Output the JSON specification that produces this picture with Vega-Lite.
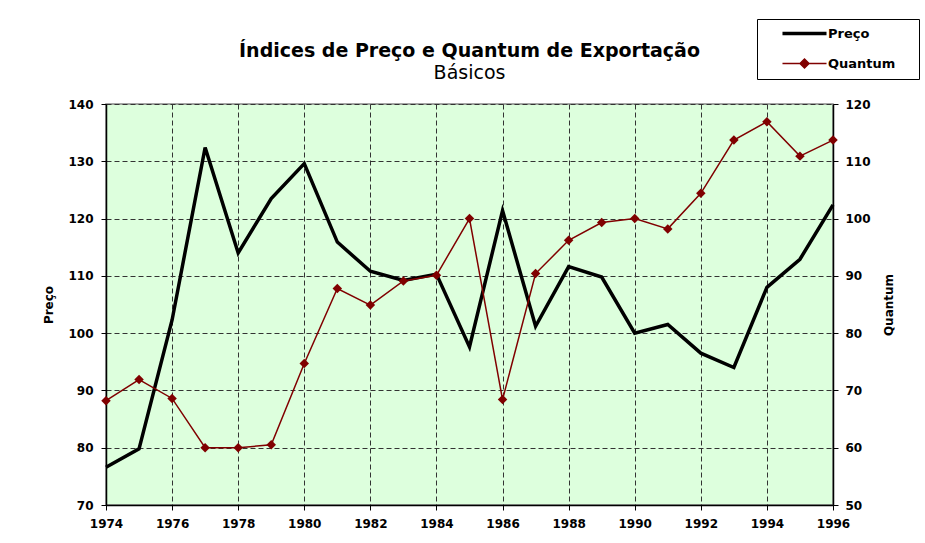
{
  "$schema": "https://vega.github.io/schema/vega-lite/v6.json",
  "width": 727,
  "height": 401,
  "autosize": "none",
  "padding": {"left": 106, "top": 104, "right": 92, "bottom": 38},
  "background": "white",
  "title": {
    "text": "Índices de Preço e Quantum de Exportação",
    "subtitle": "Básicos",
    "anchor": "middle",
    "font": "DejaVu Sans",
    "fontSize": 19,
    "fontWeight": "bold",
    "color": "black",
    "subtitleFont": "DejaVu Sans",
    "subtitleFontSize": 19,
    "subtitleColor": "black",
    "subtitlePadding": 3,
    "offset": -64
  },
  "config": {
    "view": {"fill": "#DDFFDD", "stroke": "#888888", "strokeWidth": 1.5},
    "axis": {
      "labelFont": "DejaVu Sans",
      "labelFontSize": 12,
      "labelFontWeight": "bold",
      "labelColor": "black",
      "titleFont": "DejaVu Sans",
      "titleFontSize": 12,
      "titleFontWeight": "bold",
      "titleColor": "black",
      "domainColor": "black",
      "domainWidth": 1.5,
      "tickColor": "black",
      "tickSize": 5,
      "tickWidth": 1,
      "gridColor": "#333333",
      "gridDash": [5, 3],
      "gridWidth": 1,
      "gridOpacity": 1
    }
  },
  "data": {
    "values": [
      {"ano": 1974, "preco": 76.6, "quantum": 68.2},
      {"ano": 1975, "preco": 79.8, "quantum": 71.9},
      {"ano": 1976, "preco": 102.3, "quantum": 68.6},
      {"ano": 1977, "preco": 132.4, "quantum": 60.0},
      {"ano": 1978, "preco": 114.0, "quantum": 60.0},
      {"ano": 1979, "preco": 123.5, "quantum": 60.5},
      {"ano": 1980, "preco": 129.6, "quantum": 74.7},
      {"ano": 1981, "preco": 115.9, "quantum": 87.8},
      {"ano": 1982, "preco": 110.8, "quantum": 84.9},
      {"ano": 1983, "preco": 109.2, "quantum": 89.1},
      {"ano": 1984, "preco": 110.3, "quantum": 90.1},
      {"ano": 1985, "preco": 97.6, "quantum": 100.0},
      {"ano": 1986, "preco": 121.4, "quantum": 68.4},
      {"ano": 1987, "preco": 101.2, "quantum": 90.4},
      {"ano": 1988, "preco": 111.6, "quantum": 96.2},
      {"ano": 1989, "preco": 109.8, "quantum": 99.3},
      {"ano": 1990, "preco": 100.0, "quantum": 100.0},
      {"ano": 1991, "preco": 101.5, "quantum": 98.2},
      {"ano": 1992, "preco": 96.5, "quantum": 104.4},
      {"ano": 1993, "preco": 94.0, "quantum": 113.7},
      {"ano": 1994, "preco": 108.0, "quantum": 116.9},
      {"ano": 1995, "preco": 112.9, "quantum": 110.9},
      {"ano": 1996, "preco": 122.4, "quantum": 113.7}
    ]
  },
  "encoding": {
    "x": {
      "field": "ano",
      "type": "quantitative",
      "scale": {"domain": [1974, 1996], "nice": false, "zero": false},
      "axis": {
        "title": null,
        "values": [1974, 1976, 1978, 1980, 1982, 1984, 1986, 1988, 1990, 1992, 1994, 1996],
        "format": "d",
        "grid": true,
        "labelPadding": 8,
        "labelFlush": false,
        "labelOverlap": false
      }
    }
  },
  "layer": [
    {
      "mark": {"type": "line", "strokeWidth": 3.5},
      "encoding": {
        "y": {
          "field": "preco",
          "type": "quantitative",
          "scale": {"domain": [70, 140], "nice": false, "zero": false},
          "axis": {
            "title": "Preço",
            "values": [70, 80, 90, 100, 110, 120, 130, 140],
            "grid": true,
            "labelPadding": 8,
            "titlePadding": 12
          }
        },
        "color": {
          "datum": "Preço",
          "type": "nominal",
          "scale": {"domain": ["Preço", "Quantum"], "range": ["#000000", "#800000"]},
          "legend": {
            "orient": "none",
            "legendX": 651,
            "legendY": -85,
            "title": null,
            "padding": 8,
            "strokeColor": "black",
            "fillColor": "white",
            "cornerRadius": 0,
            "labelFont": "DejaVu Sans",
            "labelFontSize": 13,
            "labelFontWeight": "bold",
            "labelColor": "black",
            "symbolSize": 144,
            "rowPadding": 15,
            "labelOffset": 50,
            "encode": {
              "symbols": {
                "update": {
                  "shape": {"signal": "datum.value === 'Preço' ? 'M1.83,0H9.17M22,0' : 'M1.83,0H9.17M4.75,0L5.5,-0.75L6.25,0L5.5,0.75ZM22,0'"},
                  "strokeWidth": {"signal": "datum.value === 'Preço' ? 3.5 : 1.5"},
                  "stroke": {"signal": "datum.value === 'Preço' ? '#000000' : '#800000'"},
                  "fill": {"signal": "datum.value === 'Preço' ? 'transparent' : '#800000'"},
                  "opacity": {"value": 1}
                }
              }
            }
          }
        }
      }
    },
    {
      "mark": {"type": "line", "strokeWidth": 1.5, "point": {"shape": "diamond", "size": 90, "filled": true}},
      "encoding": {
        "y": {
          "field": "quantum",
          "type": "quantitative",
          "scale": {"domain": [50, 120], "nice": false, "zero": false},
          "axis": {
            "orient": "right",
            "title": "Quantum",
            "titleAngle": 270,
            "values": [50, 60, 70, 80, 90, 100, 110, 120],
            "grid": false,
            "labelPadding": 7,
            "titlePadding": 25
          }
        },
        "color": {"datum": "Quantum", "type": "nominal"}
      }
    }
  ],
  "resolve": {"scale": {"y": "independent"}}
}
